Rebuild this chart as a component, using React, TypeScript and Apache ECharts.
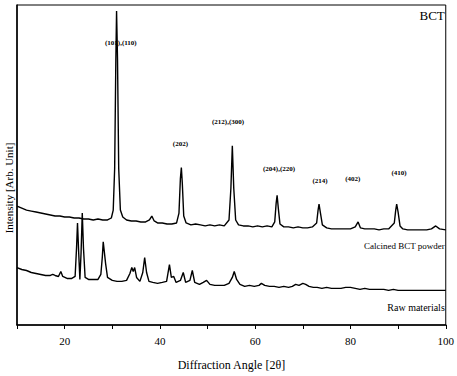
import React, { useEffect, useRef } from "react";
import * as echarts from "echarts";

// Diffraction angle (2θ) vs intensity (arb. units)
const calcinedX = [10, 11, 12, 13, 14, 15, 16, 17, 18, 19, 20, 21, 22, 23, 24, 25, 26, 27, 28, 29, 29.8, 30.2, 30.5, 30.75, 30.9, 31.1, 31.35, 31.7, 32.2, 33, 34, 35, 36, 37, 37.8, 38.3, 38.8, 39.5, 40.5, 41.5, 42.5, 43.5, 44.0, 44.3, 44.5, 44.7, 45.0, 45.5, 46.5, 47.5, 48.5, 49.5, 50.5, 51.5, 52.5, 53.5, 54.5, 54.9, 55.2, 55.5, 55.9, 56.5, 57.5, 58.5, 59.5, 60.5, 61.5, 62.5, 63.5, 64.1, 64.4, 64.6, 64.85, 65.2, 66, 67, 68, 69, 70, 71, 72, 72.9, 73.2, 73.4, 73.7, 74.1, 75, 76, 77, 78, 79, 80, 81, 81.6, 82.1, 83, 84, 85, 86, 87, 88, 89.2, 89.5, 89.7, 90.0, 90.4, 91, 92, 93, 94, 95, 96, 97, 97.9, 98.7, 100];
const calcinedY = [120, 118, 116, 115, 114, 113, 112, 111, 110, 110, 109, 109, 108, 108, 107, 107, 106, 107, 106, 106, 108, 116, 158, 268, 317, 268, 158, 116, 109, 106, 105, 105, 104, 104, 106, 110, 105, 103, 103, 102, 102, 103, 113, 148, 159, 143, 110, 103, 101, 102, 101, 100, 101, 100, 101, 100, 106, 138, 181, 138, 106, 101, 100, 100, 99, 100, 99, 100, 99, 104, 123, 131, 118, 102, 99, 99, 98, 99, 98, 98, 99, 103, 116, 122, 113, 101, 98, 97, 97, 97, 97, 97, 99, 104, 98, 97, 97, 97, 96, 97, 97, 103, 116, 122, 114, 100, 97, 96, 96, 96, 96, 96, 97, 100, 97, 96];

const rawX = [10, 11, 12, 13, 14, 15, 16, 17, 17.5, 18, 18.7, 19.2, 19.6, 20.5, 21.5, 22.2, 22.5, 22.7, 22.95, 23.2, 23.45, 23.7, 23.95, 24.3, 25, 26, 27, 27.6, 27.9, 28.1, 28.35, 28.6, 29, 30, 31, 32, 33, 33.7, 34.1, 34.4, 34.7, 35.1, 35.8, 36.4, 36.8, 37.2, 37.7, 38.5, 39.5, 40.5, 41.4, 42.0, 42.4, 42.9, 43.4, 44.3, 44.9, 45.4, 46.3, 46.8, 47.3, 48.3, 49.1, 49.8, 50.5, 51.5, 52.5, 53.5, 54.5, 55.2, 55.6, 56.1, 56.8, 57.8, 58.8, 59.8, 60.8, 61.3, 62, 63, 64, 65, 66, 67, 67.8, 68.5, 69.2, 70, 70.6, 71.3, 72.2, 73, 74, 75, 76, 77, 78, 79, 80, 81, 82, 83, 84, 85, 86, 87, 88, 89, 90, 92, 94, 96, 98, 100];
const rawY = [58, 56, 55, 53, 52, 51, 50, 50, 51, 50, 49, 54, 49, 47, 47, 49, 78, 103, 73, 46, 73, 113, 78, 48, 46, 46, 46, 51, 68, 84, 73, 62, 48, 45, 44, 44, 45, 52, 58, 54, 58, 48, 44, 53, 68, 53, 44, 43, 42, 43, 44, 61, 48, 49, 43, 45, 53, 43, 45, 55, 43, 41, 43, 45, 41, 40, 40, 40, 42, 48, 54, 46, 41, 39, 40, 39, 40, 42, 40, 39, 39, 38, 39, 38, 39, 41, 40, 42, 41, 39, 38, 38, 37, 38, 37, 37, 37, 38, 38, 37, 36, 37, 36, 36, 36, 36, 35, 36, 35, 35, 35, 35, 35, 35];

// Peak annotations (Miller indices)
const peakLabels = ["(101),(110)", "(202)", "(212),(300)", "(204),(220)", "(214)", "(402)", "(410)"];
const peakLabelX = [31.8, 44.3, 54.3, 65.0, 73.6, 80.5, 90.2];
const peakLabelY = [285, 183, 205, 157, 145, 147, 153];

// Curve names placed at right
const curveNames = ["BCT", "Calcined BCT powder", "Raw materials"];
const curveNameX = [99.8, 99.8, 99.8];
const curveNameY = [312, 80, 18];
const curveNameSize = [13, 9, 10];

const xTicks = [20, 40, 60, 80, 100];

const FONT = "'Liberation Serif', 'Times New Roman', serif";

export default function App() {
  const ref = useRef<HTMLDivElement>(null);
  useEffect(() => {
    if (!ref.current) return;
    const chart = echarts.init(ref.current, undefined, { renderer: "svg" });
    const zip = (xs: number[], ys: number[]) => xs.map((x, i) => [x, ys[i]]);
    chart.setOption({
      animation: false,
      backgroundColor: "#fff",
      grid: {
        left: 17,
        right: 10,
        top: 5,
        bottom: 48,
        show: true,
        borderColor: "#000",
        borderWidth: 1,
      },
      xAxis: {
        type: "value",
        min: 10,
        max: 100,
        interval: 10,
        axisLine: { lineStyle: { color: "#000", width: 1.5 } },
        axisTick: { show: true, length: 4, lineStyle: { color: "#000" } },
        splitLine: { show: false },
        axisLabel: {
          color: "#000",
          fontFamily: FONT,
          fontSize: 11,
          margin: 10,
          formatter: (v: number) => (xTicks.includes(v) ? String(v) : ""),
        },
        name: "Diffraction Angle [2θ]",
        nameLocation: "middle",
        nameGap: 34,
        nameTextStyle: { color: "#000", fontFamily: FONT, fontSize: 12 },
      },
      yAxis: {
        type: "value",
        min: 0,
        max: 323,
        axisLine: { show: true, lineStyle: { color: "#000", width: 1.5 } },
        axisTick: { show: false },
        axisLabel: { show: false },
        splitLine: { show: false },
      },
      graphic: [
        {
          type: "text",
          x: 9,
          y: 188,
          rotation: Math.PI / 2,
          style: {
            text: "Intensity [Arb. Unit]",
            font: `11px ${FONT}`,
            fill: "#000",
            align: "center",
            verticalAlign: "middle",
          },
        },
      ],
      series: [
        {
          type: "line",
          data: zip(calcinedX, calcinedY),
          showSymbol: false,
          lineStyle: { color: "#000", width: 1.4 },
          z: 3,
        },
        {
          type: "line",
          data: zip(rawX, rawY),
          showSymbol: false,
          lineStyle: { color: "#000", width: 1.4 },
          z: 3,
        },
        {
          type: "custom",
          silent: true,
          data: peakLabels.map((_, i) => [peakLabelX[i], peakLabelY[i], i]),
          renderItem: (_p: any, api: any) => {
            const pt = api.coord([api.value(0), api.value(1)]);
            return {
              type: "text",
              x: pt[0],
              y: pt[1],
              style: {
                text: peakLabels[api.value(2)],
                font: `bold 7px ${FONT}`,
                fill: "#000",
                align: "center",
                verticalAlign: "middle",
              },
            };
          },
          z: 4,
        },
        {
          type: "custom",
          silent: true,
          data: curveNames.map((_, i) => [curveNameX[i], curveNameY[i], i]),
          renderItem: (_p: any, api: any) => {
            const i = api.value(2);
            const pt = api.coord([api.value(0), api.value(1)]);
            return {
              type: "text",
              x: pt[0],
              y: pt[1],
              style: {
                text: curveNames[i],
                font: `${curveNameSize[i]}px ${FONT}`,
                fill: "#000",
                align: "right",
                verticalAlign: "middle",
              },
            };
          },
          z: 4,
        },
      ],
    });
    return () => chart.dispose();
  }, []);
  return <div ref={ref} style={{ width: 457, height: 376, position: "absolute", left: 0, top: 0 }} />;
}
